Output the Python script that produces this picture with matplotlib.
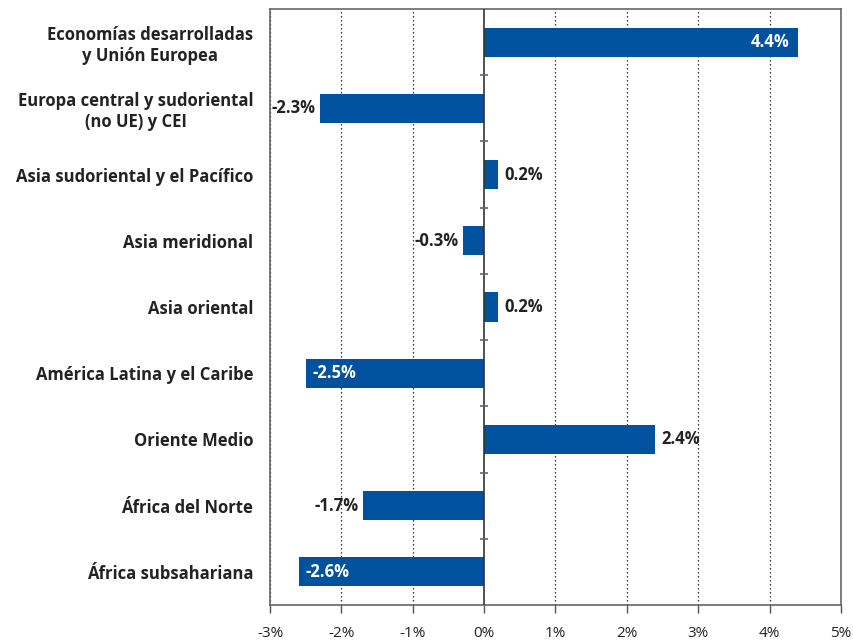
import matplotlib.pyplot as plt
import numpy as np

plt.rcParams['font.family'] = ['Open Sans', 'DejaVu Sans']

regions = [
    'Economías desarrolladas\ny Unión Europea',
    'Europa central y sudoriental\n(no UE) y CEI',
    'Asia sudoriental y el Pacífico',
    'Asia meridional',
    'Asia oriental',
    'América Latina y el Caribe',
    'Oriente Medio',
    'África del Norte',
    'África subsahariana',
]
values = [4.4, -2.3, 0.2, -0.3, 0.2, -2.5, 2.4, -1.7, -2.6]
# label inside the bar (white) or outside (dark)
inside = [True, False, False, False, False, True, False, False, True]
xticks = [-3, -2, -1, 0, 1, 2, 3, 4, 5]

bar_color = '#00529E'
text_color = '#222222'

fig = plt.figure(figsize=(8.54, 6.41), dpi=100)
ax = fig.add_axes([270 / 854, 36 / 641, 571 / 854, 596 / 641])

n = len(regions)
y = np.arange(n)[::-1]
ax.barh(y, values, height=0.44, color=bar_color, zorder=3)

ax.set_xlim(-3, 5)
ax.set_ylim(-0.5, n - 0.5)

# dotted grid lines, solid zero line
for t in xticks:
    if t == 0:
        ax.axvline(0, color='#333333', lw=1.2, zorder=4)
    else:
        ax.axvline(t, color='#333333', lw=0.9, ls=(0, (1.2, 2)), zorder=1)

# small tick marks on the zero line between categories
bounds = np.arange(n - 1) + 0.5
ax.plot(np.zeros_like(bounds), bounds, ls='none', marker='_', ms=6,
        mew=1.2, color='#666666', zorder=4, clip_on=False)

for yi, v, ins in zip(y, values, inside):
    lab = f'{v:.1f}%'
    if ins:
        ha = 'right' if v > 0 else 'left'
        off = -0.12 if v > 0 else 0.1
        ax.text(v + off, yi, lab, ha=ha, va='center', color='white',
                fontsize=12, fontweight='bold', zorder=5)
    else:
        ha = 'left' if v > 0 else 'right'
        off = 0.08 if v > 0 else -0.06
        ax.text(v + off, yi, lab, ha=ha, va='center', color=text_color,
                fontsize=12, fontweight='bold', zorder=5)

ax.set_yticks(y)
ax.set_yticklabels(regions, fontsize=12, fontweight='bold',
                   color=text_color, multialignment='center')
ax.tick_params(axis='y', length=0, pad=12)

ax.set_xticks(xticks)
ax.set_xticklabels([f'{t}%' for t in xticks], fontsize=11, color=text_color)
ax.tick_params(axis='x', length=6, width=1, color='#555555', pad=9)

for s in ax.spines.values():
    s.set_color('#666666')
    s.set_linewidth(1.2)

fig.savefig('out.png', dpi=100)
